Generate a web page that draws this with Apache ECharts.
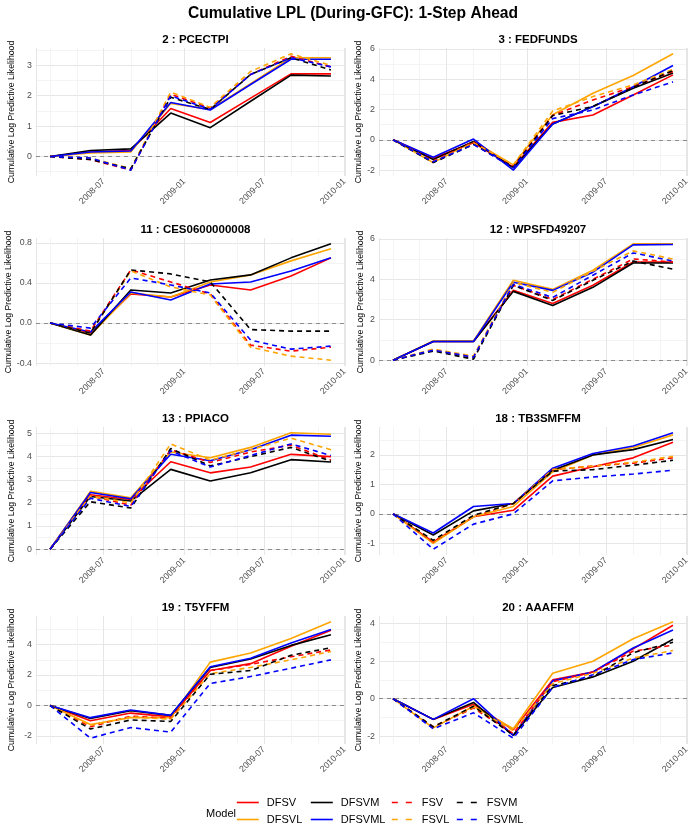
<!DOCTYPE html>
<html>
<head>
<meta charset="utf-8">
<script src="https://cdn.jsdelivr.net/npm/echarts@6/dist/echarts.min.js"></script>
<style>
  html, body { margin: 0; padding: 0; background: #fff; }
  #chart { width: 696px; height: 830px; }
</style>
</head>
<body>
<div id="chart"></div>
<script>
// forecast dates (quarterly, during GFC)
const dates = ['2008-03-01', '2008-06-01', '2008-09-01', '2008-12-01',
               '2009-03-01', '2009-06-01', '2009-09-01', '2009-12-01'];
const models = ['DFSV', 'DFSVL', 'DFSVM', 'DFSVML', 'FSV', 'FSVL', 'FSVM', 'FSVML'];

// cumulative LPL per variable
const PCECTPI = {
  DFSV:   [0, 0.15, 0.20, 1.58, 1.12, 1.92, 2.72, 2.72],
  DFSVL:  [0, 0.12, 0.15, 1.75, 1.55, 2.40, 3.25, 3.25],
  DFSVM:  [0, 0.20, 0.25, 1.43, 0.95, 1.82, 2.68, 2.65],
  DFSVML: [0, 0.15, 0.18, 1.78, 1.53, 2.37, 3.20, 3.20],
  FSV:    [0, -0.10, -0.45, 2.05, 1.60, 2.70, 3.30, 2.95],
  FSVL:   [0, -0.05, -0.40, 2.12, 1.62, 2.80, 3.38, 3.00],
  FSVM:   [0, -0.10, -0.40, 1.95, 1.55, 2.70, 3.25, 2.85],
  FSVML:  [0, -0.05, -0.45, 2.00, 1.55, 2.70, 3.25, 2.95]
};
const FEDFUNDS = {
  DFSV:   [0, -1.20, -0.20, -1.80, 1.15, 1.64, 2.96, 4.28],
  DFSVL:  [0, -1.50, -0.10, -1.65, 1.65, 3.07, 4.24, 5.67],
  DFSVM:  [0, -1.30, -0.10, -1.85, 1.05, 2.20, 3.40, 4.40],
  DFSVML: [0, -1.15, 0.05, -2.00, 1.05, 2.19, 3.50, 4.90],
  FSV:    [0, -1.40, -0.15, -1.75, 1.60, 2.63, 3.50, 4.50],
  FSVL:   [0, -1.45, -0.20, -1.65, 1.90, 2.85, 3.62, 4.65],
  FSVM:   [0, -1.50, -0.30, -1.80, 1.60, 2.20, 3.45, 4.57],
  FSVML:  [0, -1.45, -0.30, -1.85, 1.40, 1.97, 2.96, 3.82]
};
const CES0600000008 = {
  DFSV:   [0, -0.10, 0.29, 0.26, 0.38, 0.33, 0.47, 0.65],
  DFSVL:  [0, -0.12, 0.30, 0.26, 0.41, 0.48, 0.62, 0.74],
  DFSVM:  [0, -0.12, 0.33, 0.30, 0.43, 0.48, 0.65, 0.79],
  DFSVML: [0, -0.09, 0.31, 0.23, 0.39, 0.41, 0.52, 0.65],
  FSV:    [0, -0.08, 0.53, 0.41, 0.29, -0.22, -0.28, -0.24],
  FSVL:   [0, -0.10, 0.52, 0.36, 0.28, -0.24, -0.33, -0.37],
  FSVM:   [0, -0.10, 0.53, 0.49, 0.41, -0.065, -0.08, -0.08],
  FSVML:  [0, -0.05, 0.45, 0.38, 0.30, -0.17, -0.26, -0.23]
};
const WPSFD49207 = {
  DFSV:   [0, 0.92, 0.92, 3.45, 2.80, 3.70, 4.85, 4.85],
  DFSVL:  [0, 0.95, 0.95, 3.95, 3.50, 4.45, 5.75, 5.75],
  DFSVM:  [0, 0.92, 0.92, 3.40, 2.70, 3.60, 4.80, 4.80],
  DFSVML: [0, 0.92, 0.92, 3.85, 3.45, 4.35, 5.70, 5.72],
  FSV:    [0, 0.50, 0.15, 3.70, 3.00, 4.00, 5.00, 4.85],
  FSVL:   [0, 0.55, 0.20, 3.85, 3.35, 4.40, 5.40, 5.00],
  FSVM:   [0, 0.45, 0.05, 3.70, 2.95, 3.95, 4.90, 4.50],
  FSVML:  [0, 0.50, 0.15, 3.75, 3.10, 4.20, 5.30, 4.90]
};
const PPIACO = {
  DFSV:   [0, 2.35, 2.15, 3.78, 3.30, 3.55, 4.10, 4.00],
  DFSVL:  [0, 2.50, 2.22, 4.20, 3.95, 4.40, 5.03, 4.97],
  DFSVM:  [0, 2.28, 2.08, 3.45, 2.95, 3.30, 3.87, 3.77],
  DFSVML: [0, 2.45, 2.18, 4.10, 3.82, 4.30, 4.93, 4.88],
  FSV:    [0, 2.30, 1.90, 4.30, 3.75, 4.20, 4.50, 3.85],
  FSVL:   [0, 2.30, 2.00, 4.55, 3.85, 4.30, 4.80, 4.30],
  FSVM:   [0, 2.05, 1.78, 4.35, 3.60, 4.00, 4.40, 3.80],
  FSVML:  [0, 2.20, 1.85, 4.25, 3.55, 4.05, 4.55, 4.05]
};
const TB3SMFFM = {
  DFSV:   [0, -0.95, -0.10, 0.12, 1.28, 1.60, 1.90, 2.43],
  DFSVL:  [0, -1.00, -0.10, 0.25, 1.42, 2.00, 2.25, 2.68],
  DFSVM:  [0, -0.72, 0.10, 0.35, 1.48, 2.00, 2.18, 2.52],
  DFSVML: [0, -0.65, 0.25, 0.35, 1.55, 2.05, 2.30, 2.75],
  FSV:    [0, -0.95, -0.10, 0.35, 1.50, 1.62, 1.72, 1.90],
  FSVL:   [0, -0.92, -0.10, 0.35, 1.50, 1.62, 1.75, 1.95],
  FSVM:   [0, -0.90, -0.05, 0.35, 1.45, 1.50, 1.65, 1.82],
  FSVML:  [0, -1.20, -0.35, 0.00, 1.12, 1.25, 1.35, 1.48]
};
const T5YFFM = {
  DFSV:   [0, -1.00, -0.50, -0.75, 2.30, 2.75, 3.90, 4.95],
  DFSVL:  [0, -1.25, -0.80, -0.80, 2.85, 3.45, 4.40, 5.50],
  DFSVM:  [0, -0.85, -0.35, -0.65, 2.50, 3.05, 3.95, 4.65],
  DFSVML: [0, -0.80, -0.30, -0.65, 2.55, 3.10, 4.10, 5.00],
  FSV:    [0, -1.40, -0.70, -0.85, 2.30, 2.70, 3.20, 3.65],
  FSVL:   [0, -1.30, -0.75, -0.90, 2.10, 2.50, 3.00, 3.55],
  FSVM:   [0, -1.55, -0.95, -1.05, 2.05, 2.30, 3.30, 3.80],
  FSVML:  [0, -2.15, -1.45, -1.75, 1.45, 1.90, 2.45, 3.00]
};
const AAAFFM = {
  DFSV:   [0, -1.10, -0.30, -1.65, 1.00, 1.42, 2.65, 3.91],
  DFSVL:  [0, -1.55, -0.40, -1.60, 1.35, 1.99, 3.19, 4.09],
  DFSVM:  [0, -1.10, -0.20, -1.95, 0.60, 1.15, 1.99, 3.16],
  DFSVML: [0, -1.10, 0.00, -1.95, 0.95, 1.42, 2.70, 3.66],
  FSV:    [0, -1.50, -0.50, -1.85, 0.90, 1.42, 2.53, 2.85],
  FSVL:   [0, -1.50, -0.45, -1.70, 0.80, 1.35, 2.17, 2.56],
  FSVM:   [0, -1.50, -0.40, -1.95, 0.70, 1.17, 2.45, 3.00],
  FSVML:  [0, -1.60, -0.75, -2.10, 0.60, 1.27, 2.08, 2.44]
};

const panelTitles = ['2 : PCECTPI', '3 : FEDFUNDS', '11 : CES0600000008', '12 : WPSFD49207',
                     '13 : PPIACO', '18 : TB3SMFFM', '19 : T5YFFM', '20 : AAAFFM'];
const panelData = [PCECTPI, FEDFUNDS, CES0600000008, WPSFD49207, PPIACO, TB3SMFFM, T5YFFM, AAAFFM];
const yStep = [1, 2, 0.4, 2, 1, 1, 2, 2];

// styles
const colors = { DFSV: '#FF0000', DFSVL: '#FFA500', DFSVM: '#000000', DFSVML: '#0000FF',
                 FSV: '#FF0000', FSVL: '#FFA500', FSVM: '#000000', FSVML: '#0000FF' };
const isDashed = m => m.indexOf('DF') !== 0;

const colLeft = [36, 379];
const colWidth = [309, 308];
const rowTop = [48, 238, 427, 616];
const plotH = 128;
const font = 'Liberation Sans, Arial, Helvetica, sans-serif';
const DAY = 86400000;
const majorGrid = '#E6E6E6';
const minorGrid = '#F1F1F1';

const t0 = +new Date(dates[0]);
const t1 = +new Date(dates[dates.length - 1]);
const xPad = (t1 - t0) * 0.05;

let chart = echarts.init(document.getElementById('chart'), null, { renderer: 'canvas' });

const grid = [], xAxis = [], yAxis = [], series = [];
const title = [{
  text: 'Cumulative LPL (During-GFC): 1-Step Ahead',
  left: 348, top: 1, textAlign: 'center',
  textStyle: { fontFamily: font, fontSize: 15.6, fontWeight: 'bold', color: '#000' }
}];

panelData.forEach((pd, i) => {
  const col = i % 2, row = Math.floor(i / 2);
  grid.push({ left: colLeft[col], top: rowTop[row], width: colWidth[col], height: plotH });

  // ggplot style 5% expansion of the y range
  let lo = 0, hi = 0;
  models.forEach(m => pd[m].forEach(v => { lo = Math.min(lo, v); hi = Math.max(hi, v); }));
  const pad = (hi - lo) * 0.05;
  const decimals = yStep[i] < 1 ? 1 : 0;

  title.push({
    text: panelTitles[i],
    left: colLeft[col] + colWidth[col] / 2, top: rowTop[row] - 19, textAlign: 'center',
    textStyle: { fontFamily: font, fontSize: 11.5, fontWeight: 'bold', color: '#000' }
  });

  // minor (quarterly) grid: an extra time axis with only split lines
  xAxis.push({
    type: 'time', gridIndex: i, position: 'bottom',
    min: t0 - xPad, max: t1 + xPad,
    splitNumber: 8, minInterval: 89 * DAY, maxInterval: 92 * DAY,
    axisLine: { show: false }, axisTick: { show: false }, axisLabel: { show: false },
    splitLine: { show: true, lineStyle: { color: minorGrid, width: 0.8 } }
  });
  // major axis (half-yearly ticks)
  xAxis.push({
    type: 'time', gridIndex: i, position: 'bottom',
    min: t0 - xPad, max: t1 + xPad,
    splitNumber: 3,
    minInterval: 180 * DAY, maxInterval: 185 * DAY,
    axisLine: { show: false }, axisTick: { show: false },
    axisLabel: {
      rotate: 45, formatter: '{yyyy}-{MM}', color: '#4D4D4D', fontSize: 8.8,
      fontFamily: font, margin: 4, showMinLabel: false, hideOverlap: false
    },
    splitLine: { show: true, lineStyle: { color: majorGrid, width: 1 } }
  });
  yAxis.push({
    type: 'value', gridIndex: i,
    min: lo - pad, max: hi + pad,
    minInterval: yStep[i], maxInterval: yStep[i],
    name: 'Cumulative Log Predictive Likelihood',
    nameLocation: 'middle', nameRotate: 90, nameGap: col === 0 ? 20 : 14,
    nameTextStyle: { fontFamily: font, fontSize: 8.7, color: '#000' },
    axisLine: { show: false }, axisTick: { show: false },
    axisLabel: {
      color: '#4D4D4D', fontSize: 8.8, fontFamily: font, margin: 4,
      showMinLabel: false, showMaxLabel: false,
      formatter: v => v.toFixed(decimals)
    },
    splitLine: { show: true, showMinLine: false, showMaxLine: false,
                 lineStyle: { color: majorGrid, width: 1 } },
    minorTick: { show: false, splitNumber: 2 },
    minorSplitLine: { show: true, lineStyle: { color: minorGrid, width: 0.8 } }
  });

  models.forEach((m, k) => {
    const s = {
      name: m, type: 'line', xAxisIndex: 2 * i + 1, yAxisIndex: i,
      data: dates.map((d, j) => [d, pd[m][j]]),
      symbol: 'none', showSymbol: false, animation: false,
      color: colors[m],
      lineStyle: { color: colors[m], width: 1.6, type: isDashed(m) ? [5, 4] : 'solid' },
      z: 3
    };
    if (k === 0) {
      s.markLine = {
        silent: true, symbol: ['none', 'none'], label: { show: false }, animation: false,
        lineStyle: { color: '#8C8C8C', type: [4, 4], width: 1 },
        data: [{ yAxis: 0 }], z: 1
      };
    }
    series.push(s);
  });
});

title.push({
  text: 'Model', left: 201, top: 803,
  textStyle: { fontFamily: font, fontSize: 11, fontWeight: 'normal', color: '#000' }
});

// legend: 4 columns of 2 rows, like ggplot (one legend per key)
const legendCols = [['DFSV', 'DFSVL'], ['DFSVM', 'DFSVML'], ['FSV', 'FSVL'], ['FSVM', 'FSVML']];
const legendLeft = [236, 310, 391, 456];
const legend = [];
legendCols.forEach((names, c) => {
  names.forEach((nm, r) => {
    legend.push({
      data: [nm], orient: 'horizontal', left: legendLeft[c], top: 797 + r * 17,
      itemWidth: 22, itemHeight: 10, padding: 0,
      itemStyle: { opacity: 0 },
      lineStyle: isDashed(nm) ? { type: [6, 8], width: 1.6 } : { width: 1.6 },
      textStyle: { fontFamily: font, fontSize: 11, color: '#000', padding: [0, 0, 0, 3] }
    });
  });
});

chart.setOption({
  backgroundColor: '#fff',
  animation: false,
  title: title,
  legend: legend,
  grid: grid,
  xAxis: xAxis,
  yAxis: yAxis,
  series: series
});
</script>
</body>
</html>
